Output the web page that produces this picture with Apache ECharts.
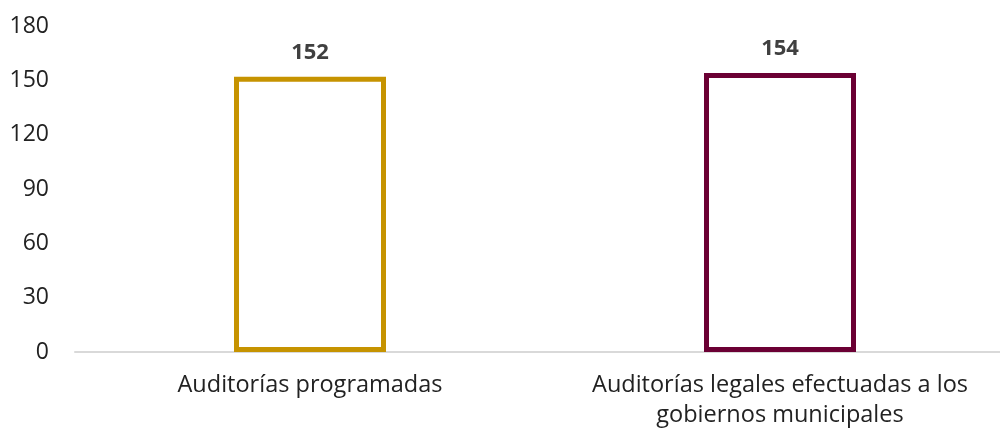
<!DOCTYPE html>
<html>
<head>
<meta charset="utf-8">
<script src="https://cdn.jsdelivr.net/npm/echarts@6/dist/echarts.min.js"></script>
<style>
  html, body { margin: 0; padding: 0; background: #fff; }
  #chart { width: 1000px; height: 431px; }
</style>
</head>
<body>
<div id="chart"></div>
<script>
  // datos
  var categorias = ['Auditorías programadas', 'Auditorías legales efectuadas a los\ngobiernos municipales'];
  var valores = [152, 154];
  var colores = ['#C69300', '#6B0034'];

  var myChart = echarts.init(document.getElementById('chart'));
  var option = {
    backgroundColor: '#ffffff',
    textStyle: { fontFamily: 'Open Sans' },
    grid: { left: 75, top: 26, width: 940, height: 326, outerBoundsMode: 'none', containLabel: false },
    xAxis: {
      type: 'category',
      data: categorias,
      axisLine: { lineStyle: { color: '#d9d9d9', width: 2 } },
      axisTick: { show: false },
      axisLabel: { interval: 0, hideOverlap: false, fontSize: 23.5, color: '#222', lineHeight: 30, margin: 18 }
    },
    yAxis: {
      type: 'value',
      min: 0,
      max: 180,
      interval: 30,
      splitLine: { show: false },
      axisLabel: { fontSize: 23, color: '#222', margin: 26 }
    },
    series: [{
      type: 'bar',
      barWidth: 152,
      data: valores.map(function (v, i) {
        return { value: v, itemStyle: { color: '#fff', borderColor: colores[i], borderWidth: 5 } };
      }),
      label: {
        show: true,
        position: 'top',
        distance: 13,
        fontSize: 22,
        fontWeight: 'bold',
        color: '#404040'
      }
    }]
  };
  myChart.setOption(option);
</script>
</body>
</html>
